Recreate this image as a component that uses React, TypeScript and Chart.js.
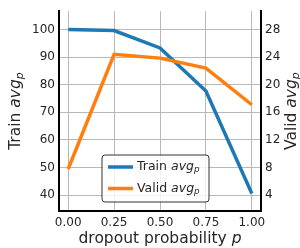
import React, { useEffect, useRef } from "react";
import { Chart, registerables } from "chart.js";

Chart.register(...registerables);

const dropoutP = [0, 0.25, 0.5, 0.75, 1.0];
const trainAvg = [100, 99.6, 93.3, 77.7, 40.6];
const validAvg = [7.8, 24.4, 23.85, 22.4, 17.1];
const xTicks = [0, 0.25, 0.5, 0.75, 1.0];
const trainTicks = [40, 50, 60, 70, 80, 90, 100];
const validTicks = [4, 8, 12, 16, 20, 24, 28];

const FONT = "'DejaVu Sans', sans-serif";
const BLUE = "#1f77b4";
const ORANGE = "#ff7f0e";
const TEXT = "#262626";

type Part = { t: string; it?: boolean; sub?: boolean };

function drawRich(ctx: CanvasRenderingContext2D, parts: Part[], x: number, y: number, size: number) {
  const fontFor = (p: Part) => `${p.it ? "italic " : ""}${p.sub ? size * 0.7 : size}px ${FONT}`;
  let total = 0;
  const widths = parts.map((p) => {
    ctx.font = fontFor(p);
    const w = ctx.measureText(p.t).width;
    total += w;
    return w;
  });
  let cx = x - total / 2;
  ctx.textBaseline = "middle";
  ctx.textAlign = "left";
  parts.forEach((p, i) => {
    ctx.font = fontFor(p);
    ctx.fillText(p.t, cx, p.sub ? y + size * 0.25 : y);
    cx += widths[i];
  });
}

function drawRichLeft(ctx: CanvasRenderingContext2D, parts: Part[], x: number, y: number, size: number) {
  const fontFor = (p: Part) => `${p.it ? "italic " : ""}${p.sub ? size * 0.7 : size}px ${FONT}`;
  let cx = x;
  ctx.textBaseline = "middle";
  ctx.textAlign = "left";
  parts.forEach((p) => {
    ctx.font = fontFor(p);
    ctx.fillText(p.t, cx, p.sub ? y + size * 0.25 : y);
    cx += ctx.measureText(p.t).width;
  });
}

const overlay = {
  id: "overlay",
  afterDraw(chart: any) {
    const ctx = chart.ctx as CanvasRenderingContext2D;
    const a = chart.chartArea;
    ctx.save();
    ctx.fillStyle = TEXT;
    // x title
    drawRich(ctx, [{ t: "dropout probability " }, { t: "p", it: true }], (a.left + a.right) / 2, 239, 15.5);
    // left title
    ctx.save();
    ctx.translate(16, (a.top + a.bottom) / 2);
    ctx.rotate(-Math.PI / 2);
    drawRich(ctx, [{ t: "Train " }, { t: "avg", it: true }, { t: "p", it: true, sub: true }], 0, 0, 15.5);
    ctx.restore();
    // right title
    ctx.save();
    ctx.translate(292, (a.top + a.bottom) / 2);
    ctx.rotate(-Math.PI / 2);
    drawRich(ctx, [{ t: "Valid " }, { t: "avg", it: true }, { t: "p", it: true, sub: true }], 0, 0, 15.5);
    ctx.restore();

    // legend
    const bx = 102, by = 155, bw = 107, bh = 47, r = 3;
    ctx.beginPath();
    ctx.moveTo(bx + r, by);
    ctx.lineTo(bx + bw - r, by);
    ctx.quadraticCurveTo(bx + bw, by, bx + bw, by + r);
    ctx.lineTo(bx + bw, by + bh - r);
    ctx.quadraticCurveTo(bx + bw, by + bh, bx + bw - r, by + bh);
    ctx.lineTo(bx + r, by + bh);
    ctx.quadraticCurveTo(bx, by + bh, bx, by + bh - r);
    ctx.lineTo(bx, by + r);
    ctx.quadraticCurveTo(bx, by, bx + r, by);
    ctx.closePath();
    ctx.fillStyle = "rgba(255,255,255,0.8)";
    ctx.fill();
    ctx.strokeStyle = "#333333";
    ctx.lineWidth = 1;
    ctx.stroke();

    const items: [string, string, number][] = [
      ["Train ", BLUE, 167],
      ["Valid ", ORANGE, 188.5],
    ];
    items.forEach(([label, color, y]) => {
      ctx.beginPath();
      ctx.strokeStyle = color;
      ctx.lineWidth = 3.5;
      ctx.moveTo(108, y);
      ctx.lineTo(133, y);
      ctx.stroke();
      ctx.fillStyle = TEXT;
      drawRichLeft(ctx, [{ t: label }, { t: "avg", it: true }, { t: "p", it: true, sub: true }], 137, y, 12.5);
    });
    ctx.restore();
  },
};

export default function App() {
  const ref = useRef<HTMLCanvasElement>(null);
  useEffect(() => {
    document.body.style.margin = "0";
    const canvas = ref.current!;
    const chart = new Chart(canvas, {
      type: "line",
      data: {
        datasets: [
          {
            label: "Train",
            data: dropoutP.map((x, i) => ({ x, y: trainAvg[i] })),
            borderColor: BLUE,
            borderWidth: 3.5,
            pointRadius: 0,
            yAxisID: "y",
            order: 1,
            tension: 0,
          },
          {
            label: "Valid",
            data: dropoutP.map((x, i) => ({ x, y: validAvg[i] })),
            borderColor: ORANGE,
            borderWidth: 3.5,
            pointRadius: 0,
            yAxisID: "y2",
            order: 0,
            tension: 0,
          },
        ],
      },
      options: {
        responsive: false,
        animation: false,
        layout: { padding: { top: 7, left: 0, right: 0, bottom: 0 } },
        plugins: { legend: { display: false }, tooltip: { enabled: false } },
        scales: {
          x: {
            type: "linear",
            min: -0.05,
            max: 1.05,
            afterBuildTicks: (s: any) => {
              s.ticks = xTicks.map((v) => ({ value: v }));
            },
            afterFit: (s: any) => {
              s.height = 37;
            },
            ticks: {
              callback: (v: any) => Number(v).toFixed(2),
              font: { family: FONT, size: 12 },
              color: TEXT,
              padding: 5,
              maxRotation: 0,
            },
            grid: { color: "#b8b8b8", lineWidth: 1, drawTicks: false },
            border: { color: "#000", width: 2 },
          },
          y: {
            type: "linear",
            position: "left",
            min: 34.3,
            max: 106.6,
            afterBuildTicks: (s: any) => {
              s.ticks = trainTicks.map((v) => ({ value: v }));
            },
            afterFit: (s: any) => {
              s.width = 59;
            },
            ticks: { font: { family: FONT, size: 12 }, color: TEXT, padding: 4 },
            grid: { color: "#b8b8b8", lineWidth: 1, drawTicks: false },
            border: { color: "#000", width: 2 },
          },
          y2: {
            type: "linear",
            position: "right",
            min: 1.72,
            max: 30.64,
            afterBuildTicks: (s: any) => {
              s.ticks = validTicks.map((v) => ({ value: v }));
            },
            afterFit: (s: any) => {
              s.width = 39;
            },
            ticks: { font: { family: FONT, size: 12 }, color: TEXT, padding: 4 },
            grid: { drawOnChartArea: false, drawTicks: false },
            border: { color: "#000", width: 2 },
          },
        },
      },
      plugins: [overlay],
    } as any);
    return () => chart.destroy();
  }, []);
  return (
    <div style={{ position: "absolute", left: 0, top: 0, width: 300, height: 248 }}>
      <canvas ref={ref} width={300} height={248} style={{ display: "block" }} />
    </div>
  );
}
